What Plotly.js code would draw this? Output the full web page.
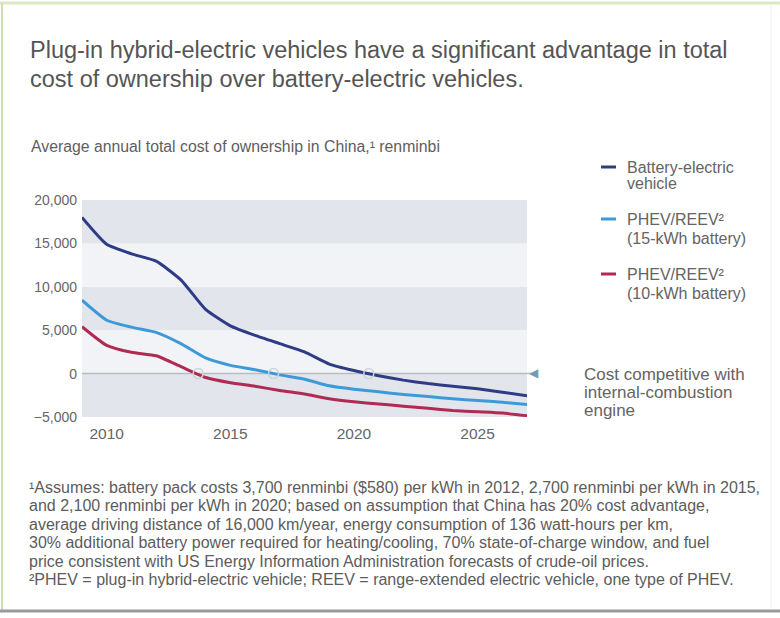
<!DOCTYPE html>
<html>
<head>
<meta charset="utf-8">
<script src="https://cdn.plot.ly/plotly-3.0.1.min.js"></script>
<style>
  html, body { margin: 0; padding: 0; background: #ffffff; }
  #chart { width: 780px; height: 618px; }
</style>
</head>
<body>
<div id="chart"></div>
<script>
// ---- data ----
var years = [2009, 2010, 2011, 2012, 2013, 2014, 2015, 2016, 2017, 2018, 2019, 2020, 2021, 2022, 2023, 2024, 2025, 2026, 2027];
var batteryElectric = [18000, 14900, 13800, 12950, 10800, 7400, 5500, 4400, 3450, 2500, 1100, 350, -250, -750, -1150, -1450, -1750, -2150, -2550];
var phev15 = [8450, 6150, 5350, 4750, 3450, 1800, 950, 450, -150, -650, -1400, -1800, -2100, -2400, -2650, -2900, -3100, -3300, -3550];
var phev10 = [5400, 3250, 2450, 2050, 800, -450, -1050, -1450, -1950, -2350, -2900, -3250, -3500, -3750, -4000, -4250, -4400, -4550, -4850];
var crossingYears = [2013.7, 2016.75, 2020.6];
var yTicks = [-5000, 0, 5000, 10000, 15000, 20000];
var xTicks = [2010, 2015, 2020, 2025];
var seriesNames = [["Battery-electric", "vehicle"], ["PHEV/REEV²", "(15-kWh battery)"], ["PHEV/REEV²", "(10-kWh battery)"]];
var titleLines = ["Plug-in hybrid-electric vehicles have a significant advantage in total",
                  "cost of ownership over battery-electric vehicles."];
var subtitle = "Average annual total cost of ownership in China,¹ renminbi";
var zeroNote = ["Cost competitive with", "internal-combustion", "engine"];
var footnotes = [
  "¹Assumes: battery pack costs 3,700 renminbi ($580) per kWh in 2012, 2,700 renminbi per kWh in 2015,",
  "and 2,100 renminbi per kWh in 2020; based on assumption that China has 20% cost advantage,",
  "average driving distance of 16,000 km/year, energy consumption of 136 watt-hours per km,",
  "30% additional battery power required for heating/cooling, 70% state-of-charge window, and fuel",
  "price consistent with US Energy Information Administration forecasts of crude-oil prices.",
  "²PHEV = plug-in hybrid-electric vehicle; REEV = range-extended electric vehicle, one type of PHEV."
];

// ---- layout geometry ----
var W = 780, H = 618;
var L = 82, R = 527, T = 200, B = 417;
function px(x) { return (x - L) / (R - L); }
function py(y) { return (B - y) / (B - T); }

var colors = ["#2d3c85", "#3d9ad8", "#b02a52"];
var FONT = "Liberation Sans, Arial, sans-serif";

var traces = [];
var series = [batteryElectric, phev15, phev10];
series.forEach(function (s, i) {
  traces.push({
    x: years, y: s, type: "scatter", mode: "lines",
    line: { color: colors[i], width: 3, shape: "spline", smoothing: 0.5 },
    hoverinfo: "skip", showlegend: false
  });
});
traces.push({
  x: crossingYears, y: crossingYears.map(function () { return 0; }),
  type: "scatter", mode: "markers",
  marker: { symbol: "circle-open", size: 10, color: "#cfd2d6", line: { width: 1.5 } },
  hoverinfo: "skip", showlegend: false
});

var shapes = [];
for (var i = 0; i < yTicks.length - 1; i++) {
  shapes.push({
    type: "rect", xref: "paper", yref: "y", x0: 0, x1: 1,
    y0: yTicks[i], y1: yTicks[i + 1], layer: "below", line: { width: 0 },
    fillcolor: (i % 2 === 0) ? "#e2e5ec" : "#f2f3f6"
  });
}
shapes.push({ type: "line", xref: "paper", yref: "y", x0: 0, x1: px(532), y0: 0, y1: 0,
  line: { color: "#b9bdc3", width: 1.5 }, layer: "below" });
// frame
shapes.push({ type: "line", xref: "paper", yref: "paper", x0: px(0), x1: px(780), y0: py(3), y1: py(3),
  line: { color: "#dce8c4", width: 3 } });
shapes.push({ type: "line", xref: "paper", yref: "paper", x0: px(2), x1: px(2), y0: py(3), y1: py(610),
  line: { color: "#cfe0aa", width: 2 } });
shapes.push({ type: "line", xref: "paper", yref: "paper", x0: px(771), x1: px(771), y0: py(6), y1: py(609),
  line: { color: "#efefef", width: 1 } });
shapes.push({ type: "line", xref: "paper", yref: "paper", x0: px(0), x1: px(780), y0: py(611), y1: py(611),
  line: { color: "#9a9a9a", width: 3 } });
// legend swatches
var legendY = [167, 219, 274];
legendY.forEach(function (yy, i) {
  shapes.push({ type: "line", xref: "paper", yref: "paper", x0: px(601), x1: px(616), y0: py(yy), y1: py(yy),
    line: { color: colors[i], width: 3 } });
});

var annotations = [];
function addText(text, x, y, size, color) {
  annotations.push({ text: text, xref: "paper", yref: "paper", x: px(x), y: py(y), xanchor: "left", yanchor: "middle",
    showarrow: false, align: "left", font: { family: FONT, size: size, color: color } });
}
addText(titleLines[0], 28, 50, 23.5, "#555555");
addText(titleLines[1], 28, 79, 23.5, "#555555");
addText(subtitle, 29, 146, 15.8, "#5e5e5e");
var legendGap = [16, 19, 19];
seriesNames.forEach(function (pair, i) {
  addText(pair[0], 625, legendY[i], 16, "#646464");
  addText(pair[1], 625, legendY[i] + legendGap[i], 16, "#646464");
});
zeroNote.forEach(function (t, i) {
  addText(t, 582, 374 + i * 18, 17, "#646464");
});
addText("◀", 527, 373, 12, "#6f9db4");
footnotes.forEach(function (f, i) {
  addText(f, 27, 487 + i * 18.5, 16, "#5c5c5c");
});

var layout = {
  width: W, height: H,
  margin: { l: L, r: W - R, t: T, b: H - B, pad: 0 },
  paper_bgcolor: "#ffffff", plot_bgcolor: "#ffffff",
  showlegend: false,
  xaxis: {
    range: [2009, 2027], tickvals: xTicks, ticks: "", showgrid: false, zeroline: false, showline: false,
    tickfont: { family: FONT, size: 15.5, color: "#666666" }, ticklabelstandoff: 5
  },
  yaxis: {
    range: [-5000, 20000], tickvals: yTicks, tickformat: ",", ticks: "", showgrid: false, zeroline: false,
    showline: false, tickfont: { family: FONT, size: 14, color: "#666666" }, ticklabelstandoff: 4
  },
  shapes: shapes,
  annotations: annotations
};

Plotly.newPlot("chart", traces, layout, { displayModeBar: false, staticPlot: true });
</script>
</body>
</html>
